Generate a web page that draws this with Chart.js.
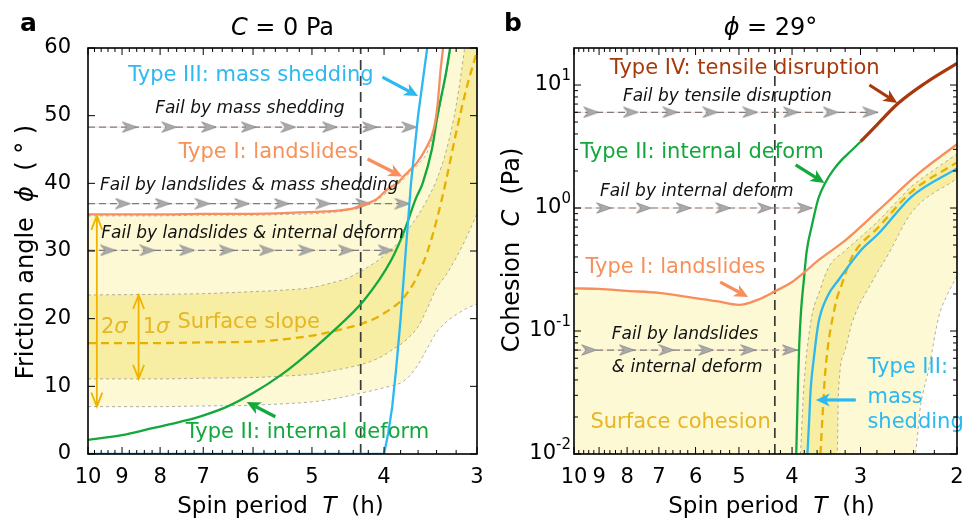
<!DOCTYPE html>
<html><head><meta charset="utf-8">
<script src="https://cdn.jsdelivr.net/npm/chart.js@4/dist/chart.umd.min.js"></script>
<style>
html,body{margin:0;padding:0;background:#fff;}
#wrap{position:relative;width:964px;height:520px;overflow:hidden;background:#fff;}
canvas{position:absolute;top:0;}
#ca{left:0;} #cb{left:484px;}
</style></head><body>
<div id="wrap"><canvas id="ca" width="484" height="520"></canvas><canvas id="cb" width="480" height="520"></canvas></div>
<script>
// ================= DATA: panel a (C = 0 Pa) =================
const spinTicksA = [10, 9, 8, 7, 6, 5, 4, 3];
const phiTicks   = [0, 10, 20, 30, 40, 50, 60];

// Type III: mass shedding
const shedT_A   = [10, 4.0, 3.95, 3.90, 3.85, 3.80, 3.74, 3.68, 3.60, 3.50];
const shedPhi_A = [0, 0, 3, 7, 13, 20, 30, 40, 50, 60];
// Type II: internal deform
const deformT_A   = [10, 9, 8.35, 7.5, 7.09, 6.5, 6.0, 5.5, 5.21, 4.71, 4.25, 3.91, 3.75, 3.63, 3.55, 3.45, 3.39, 3.30, 3.26];
const deformPhi_A = [2.1, 2.8, 3.6, 4.8, 5.5, 7.0, 9.0, 11.7, 13.7, 17.9, 22.8, 28.7, 33.2, 37.6, 40, 45, 50, 56.5, 60];
// Type I: landslides
const slideT_A   = [10, 8, 7, 6, 5.2, 4.7, 4.4, 4.25, 4.1, 3.95, 3.83, 3.76, 3.68, 3.61, 3.52, 3.43, 3.39, 3.36, 3.33];
const slidePhi_A = [35.4, 35.4, 35.5, 35.5, 35.7, 35.9, 36.3, 36.9, 37.6, 39.2, 40.1, 41.1, 42.1, 43.1, 45, 48, 51.5, 56.4, 60.3];
// Surface slope distribution (median, 1 sigma, 2 sigma)
const bandT_A    = [10, 8, 7, 6, 5.5, 5, 4.7, 4.5, 4.3, 4.1, 4.0, 3.9, 3.8, 3.7, 3.6, 3.5, 3.4, 3.3, 3.2, 3.1, 3.0];
const slopeMed_A = [16.4, 16.4, 16.5, 16.6, 16.9, 17.5, 18.1, 18.6, 19.2, 20.1, 20.8, 21.6, 22.6, 24.2, 26.5, 29.8, 34.5, 40.5, 47.5, 54, 59.5];
const slope1Up_A = [23.5, 23.6, 23.7, 24.0, 24.2, 24.6, 25.3, 25.9, 27.0, 28.4, 29.3, 30.4, 31.5, 33.4, 35.3, 37.6, 40.5, 44.8, 51.5, 62, 75];
const slope1Lo_A = [11.1, 11.1, 11.2, 11.3, 11.5, 11.8, 12.3, 12.7, 13.2, 14.0, 14.6, 15.4, 16.2, 17.3, 18.8, 21.5, 24.5, 26.5, 29, 32, 35.5];
const slope2Up_A = [35.2, 35.2, 35.3, 35.3, 35.4, 35.5, 35.7, 36.0, 36.6, 37.4, 38.3, 39.3, 40.2, 41.5, 42.8, 44.6, 49, 56, 65, 75, 85];
const slope2Lo_A = [7.0, 7.0, 7.1, 7.2, 7.4, 7.7, 8.1, 8.5, 9.0, 9.5, 9.8, 10.1, 10.5, 11.5, 13.2, 15.6, 18.0, 19.5, 20.6, 21.5, 22.2];
// "Fail by ..." paths
const failPhi_A = [48.3, 37.0, 30.1];
const failEnd_A = [3.63, 3.70, 3.89];
const failMarks_A = [
  [8.79, 7.78, 6.88, 6.08, 5.38, 4.73, 4.18, 3.70],
  [8.98, 7.94, 7.02, 6.21, 5.49, 4.83, 4.27, 3.78],
  [9.40, 8.32, 7.36, 6.51, 5.75, 5.09, 4.50, 3.98]
];
const currentPeriod = [4.3];

// ================= DATA: panel b (phi = 29 deg) =================
const spinTicksB = [10, 9, 8, 7, 6, 5, 4, 3, 2];
const cohTicks   = [0.01, 0.1, 1, 10];

const slideT_B = [10, 9, 8, 7, 6, 5.5, 5.0, 4.6, 4.3, 4.0, 3.8, 3.57, 3.19, 2.78, 2.35, 2.0];
const slideC_B = [0.222, 0.22, 0.212, 0.204, 0.185, 0.175, 0.163, 0.181, 0.21, 0.25, 0.30, 0.38, 0.55, 0.96, 1.91, 3.3];
const deformT_B = [3.93, 3.915, 3.90, 3.88, 3.85, 3.81, 3.76, 3.68, 3.58, 3.48, 3.36, 3.25, 3.12, 3.0];
const deformC_B = [0.01, 0.02, 0.04, 0.08, 0.15, 0.25, 0.45, 0.72, 1.2, 1.6, 2.05, 2.45, 2.92, 3.46];
const tensileT_B = [3.0, 2.8, 2.56, 2.29, 2.0];
const tensileC_B = [3.46, 4.75, 7.1, 10.3, 15];
const shedT_B = [3.75, 3.72, 3.70, 3.65, 3.58, 3.45, 3.29, 3.0, 2.78, 2.42, 2.0];
const shedC_B = [0.01, 0.02, 0.033, 0.06, 0.116, 0.19, 0.26, 0.45, 0.62, 1.24, 2.1];
const cohMedT_B = [3.55, 3.52, 3.48, 3.34, 3.24, 3.11, 2.78, 2.42, 2.0];
const cohMedC_B = [0.01, 0.02, 0.046, 0.158, 0.245, 0.40, 0.70, 1.36, 2.35];
const coh1UpT_B = [3.86, 3.81, 3.70, 3.55, 3.43, 3.2, 3.0, 2.78, 2.58, 2.42, 2.2, 2.0];
const coh1UpC_B = [0.01, 0.033, 0.116, 0.22, 0.33, 0.45, 0.58, 0.79, 1.12, 1.5, 2.05, 2.75];
const coh1LoT_B = [3.86, 3.31, 3.29, 3.2, 3.11, 2.86, 2.67, 2.42, 2.0];
const coh1LoC_B = [0.005, 0.01, 0.033, 0.07, 0.116, 0.25, 0.42, 0.92, 1.74];
const coh2LoT_B = [10, 2.39, 2.33, 2.25, 2.16, 2.08, 2.0];
const coh2LoC_B = [0.01, 0.01, 0.025, 0.05, 0.13, 0.2, 0.28];
const failC_B = [6.0, 1.0, 0.07];
const failEnd_B = [2.78, 3.62, 3.88];
const failMarks_B = [
  [9.31, 7.88, 6.67, 5.64, 4.77, 4.02, 3.40, 2.88],
  [8.82, 7.46, 6.31, 5.34, 4.48, 3.79],
  [9.39, 8.01, 6.78, 5.74, 4.81, 4.04]
];

// ================= STYLE =================
const FONT = '"DejaVu Sans", "Liberation Sans", sans-serif';
const BLUE = '#2cb8f0', GREEN = '#12a83c', ORANGE = '#f88e5c', ORANGE_T = '#f7915a',
      BROWN = '#a8390b', GOLD = '#e8b523', MED = '#e7b000',
      LIGHT = '#fdf9d5', DARK = '#f7eea3', EDGE = '#9a9a9a';
Chart.defaults.font.family = FONT;
Chart.defaults.color = '#000';

const pts = (xs, ys) => xs.map((x, i) => ({x: x, y: ys[i]}));
const hline = (y, x0, x1) => [{x: x0, y: y}, {x: x1, y: y}];

function chevron() {
  const c = document.createElement('canvas'); c.width = 16; c.height = 12;
  const g = c.getContext('2d');
  g.beginPath(); g.moveTo(15.3, 6); g.lineTo(0.7, 0.8); g.lineTo(5, 6); g.lineTo(0.7, 11.2); g.closePath();
  g.fillStyle = '#aaaaaa'; g.fill(); g.strokeStyle = '#888'; g.lineWidth = 0.8; g.stroke();
  return c;
}
const CHEV = chevron();

function lineDs(data, color, width, order, extra) {
  return Object.assign({data: data, showLine: true, borderColor: color, borderWidth: width,
    pointRadius: 0, fill: false, cubicInterpolationMode: 'monotone', tension: 0.4, order: order}, extra || {});
}
function straight(data, color, width, order, extra) {
  return Object.assign(lineDs(data, color, width, order, extra), {cubicInterpolationMode: 'default', tension: 0});
}
function failSets(yVals, ends, marks, startT) {
  const pink = [], dash = [], mk = [];
  yVals.forEach((y, i) => {
    pink.push(straight(hline(y, startT, ends[i]), 'rgba(248,190,170,0.55)', 1, 14));
    dash.push(straight(hline(y, startT, ends[i]), '#7c7c7c', 1.2, 13, {borderDash: [7, 4]}));
    mk.push({data: marks[i].map(t => ({x: t, y: y})), showLine: false, pointStyle: CHEV,
      pointRadius: 6, order: 12});
  });
  return pink.concat(dash, mk);
}

// ================= DATASETS =================
const dsA = [
  lineDs(pts(bandT_A, slope2Up_A), EDGE, 0.8, 20, {fill: 1, backgroundColor: LIGHT, borderDash: [3, 3]}),
  lineDs(pts(bandT_A, slope2Lo_A), EDGE, 0.8, 19, {borderDash: [3, 3]}),
  lineDs(pts(bandT_A, slope1Up_A), EDGE, 0.8, 18, {fill: 3, backgroundColor: DARK, borderDash: [3, 3]}),
  lineDs(pts(bandT_A, slope1Lo_A), EDGE, 0.8, 17, {borderDash: [3, 3]}),
  lineDs(pts(bandT_A, slopeMed_A), MED, 2.3, 16, {borderDash: [8, 5]}),
  straight([{x: currentPeriod[0], y: 0}, {x: currentPeriod[0], y: 60}], '#3a3a3a', 1.7, 15, {borderDash: [10, 6]})
].concat(failSets(failPhi_A, failEnd_A, failMarks_A, 10), [
  lineDs(pts(deformT_A, deformPhi_A), GREEN, 2.3, 3),
  lineDs(pts(slideT_A, slidePhi_A), ORANGE, 2.3, 2),
  straight(pts(shedT_A, shedPhi_A), BLUE, 2.3, 1)
]);

const dsB = [
  lineDs(pts(slideT_B, slideC_B), 'rgba(0,0,0,0)', 0, 20, {fill: 1, backgroundColor: LIGHT}),
  lineDs(pts(coh2LoT_B, coh2LoC_B), EDGE, 0.8, 19, {borderDash: [3, 3]}),
  lineDs(pts(coh1UpT_B, coh1UpC_B), EDGE, 0.8, 18, {fill: 3, backgroundColor: DARK, borderDash: [3, 3]}),
  lineDs(pts(coh1LoT_B, coh1LoC_B), EDGE, 0.8, 17, {borderDash: [3, 3]}),
  lineDs(pts(cohMedT_B, cohMedC_B), MED, 2.3, 16, {borderDash: [8, 5]}),
  straight([{x: currentPeriod[0], y: 0.01}, {x: currentPeriod[0], y: 20}], '#3a3a3a', 1.7, 15, {borderDash: [10, 6]})
].concat(failSets(failC_B, failEnd_B, failMarks_B, 10), [
  lineDs(pts(deformT_B, deformC_B), GREEN, 2.3, 3),
  lineDs(pts(tensileT_B, tensileC_B), BROWN, 3.2, 4),
  lineDs(pts(slideT_B, slideC_B), ORANGE, 2.3, 2),
  lineDs(pts(shedT_B, shedC_B), BLUE, 2.3, 1)
]);

// ================= DECORATION CONFIG =================
function minorsBetween(lo, hi) { const r = []; for (let k = Math.round(lo * 5) + 1; k < Math.round(hi * 5); k++) if (k % 5) r.push(k / 5); return r; }
const logMinors = []; [0.01, 0.1, 1].forEach(d => { for (let m = 2; m <= 9; m++) logMinors.push(m * d); });

const decoCfg = {
  ca: {
    xMajor: spinTicksA, xMinor: minorsBetween(3, 10), yMajor: phiTicks, yMinor: [],
    letter: 'a', title: [['C', 1], [' = 0 Pa']], titleDx: 0,
    xTitle: [['Spin period  '], ['T', 1], ['  (h)']], xTitleDx: -2,
    yTitle: [['Friction angle  '], ['\u03D5', 1], ['  ( \u00B0 )']], yTitleX: 27, yTitleY: 252,
    sigma: [{T: 9.73, top: slope2Up_A[0], bot: slope2Lo_A[0]}, {T: 8.55, top: slope1Up_A[0], bot: slope1Lo_A[0]}],
    arrows: [
      {t0: 4.02, v0: 55.7, t1: 3.60, v1: 52.9, color: BLUE},
      {t0: 4.21, v0: 43.6, t1: 3.78, v1: 41.0, color: ORANGE},
      {t0: 5.60, v0: 5.5, t1: 6.12, v1: 7.7, color: GREEN}
    ],
    texts: [
      {parts: [['Type III: mass shedding']], T: 6.04, v: 56.0, color: BLUE, size: 21},
      {parts: [['Fail by mass shedding', 1]], T: 6.06, v: 51.1, color: '#111', size: 17},
      {parts: [['Type I: landslides']], T: 5.72, v: 44.6, color: ORANGE_T, size: 21},
      {parts: [['Fail by landslides & mass shedding', 1]], T: 6.07, v: 39.6, color: '#111', size: 17},
      {parts: [['Fail by landslides & internal deform', 1]], T: 6.01, v: 32.6, color: '#111', size: 17},
      {parts: [['2'], ['\u03C3', 1]], T: 9.22, v: 18.7, color: GOLD, size: 21},
      {parts: [['1'], ['\u03C3', 1]], T: 8.10, v: 18.7, color: GOLD, size: 21},
      {parts: [['Surface slope']], T: 6.08, v: 19.4, color: GOLD, size: 21},
      {parts: [['Type II: internal deform']], T: 5.07, v: 3.1, color: GREEN, size: 21}
    ]
  },
  cb: {
    xMajor: spinTicksB, xMinor: minorsBetween(2, 10), yMajor: cohTicks, yMinor: logMinors, logLabels: true,
    letter: 'b', title: [['\u03D5', 1], [' = 29\u00B0']], titleDx: 5,
    xTitle: [['Spin period  '], ['T', 1], ['  (h)']], xTitleDx: 6,
    yTitle: [['Cohesion  '], ['C', 1], ['  (Pa)']], yTitleX: 29, yTitleY: 250,
    sigma: [],
    arrows: [
      {t0: 2.89, v0: 10.0, t1: 2.57, v1: 7.15, color: BROWN},
      {t0: 3.94, v0: 2.24, t1: 3.49, v1: 1.60, color: GREEN},
      {t0: 5.41, v0: 0.25, t1: 4.81, v1: 0.189, color: ORANGE},
      {t0: 3.06, v0: 0.0275, t1: 3.62, v1: 0.0275, color: BLUE}
    ],
    texts: [
      {parts: [['Type IV: tensile disruption']], T: 4.88, v: 13.5, color: BROWN, size: 21},
      {parts: [['Fail by tensile disruption', 1]], T: 5.25, v: 7.98, color: '#111', size: 17},
      {parts: [['Type II: internal deform']], T: 5.84, v: 2.85, color: GREEN, size: 21},
      {parts: [['Fail by internal deform', 1]], T: 5.97, v: 1.35, color: '#111', size: 17},
      {parts: [['Type I: landslides']], T: 6.53, v: 0.331, color: ORANGE_T, size: 21},
      {parts: [['Fail by landslides', 1]], T: 8.53, v: 0.0927, color: '#111', size: 17, align: 'left'},
      {parts: [['& internal deform', 1]], T: 8.53, v: 0.0509, color: '#111', size: 17, align: 'left'},
      {parts: [['Surface cohesion']], T: 6.39, v: 0.0179, color: GOLD, size: 21},
      {parts: [['Type III:']], T: 2.914, v: 0.05, color: BLUE, size: 21, align: 'left'},
      {parts: [['mass']], T: 2.914, v: 0.029, color: BLUE, size: 21, align: 'left'},
      {parts: [['shedding']], T: 2.914, v: 0.0179, color: BLUE, size: 21, align: 'left'}
    ]
  }
};

// ================= DRAW HELPERS =================
function rich(ctx, parts, x, y, align, size, weight) {
  const fnt = p => (p[1] ? 'italic ' : '') + (weight ? weight + ' ' : '') + size + 'px ' + FONT;
  let total = 0; const ws = [];
  parts.forEach(p => { ctx.font = fnt(p); const w = ctx.measureText(p[0]).width; ws.push(w); total += w; });
  let cx = align === 'center' ? x - total / 2 : (align === 'right' ? x - total : x);
  ctx.textAlign = 'left';
  parts.forEach((p, i) => { ctx.font = fnt(p); ctx.fillText(p[0], cx, y); cx += ws[i]; });
}
function fatArrow(ctx, x1, y1, x2, y2, color) {
  const ang = Math.atan2(y2 - y1, x2 - x1), c = Math.cos(ang), s = Math.sin(ang);
  const hl = 14, hw = 6.5, nx = x2 - hl * 0.72 * c, ny = y2 - hl * 0.72 * s;
  const bx = x2 - hl * c, by = y2 - hl * s;
  ctx.strokeStyle = color; ctx.fillStyle = color; ctx.lineWidth = 3.2; ctx.setLineDash([]);
  ctx.beginPath(); ctx.moveTo(x1, y1); ctx.lineTo(nx, ny); ctx.stroke();
  ctx.beginPath(); ctx.moveTo(x2, y2); ctx.lineTo(bx - hw * s, by + hw * c); ctx.lineTo(nx, ny);
  ctx.lineTo(bx + hw * s, by - hw * c); ctx.closePath(); ctx.fill();
}
function dblArrow(ctx, x, y1, y2, color) {
  const hl = 14, hw = 5.5;
  ctx.strokeStyle = color; ctx.lineWidth = 1.8; ctx.setLineDash([]);
  ctx.beginPath(); ctx.moveTo(x, y1); ctx.lineTo(x, y2);
  ctx.moveTo(x - hw, y1 + hl); ctx.lineTo(x, y1); ctx.lineTo(x + hw, y1 + hl);
  ctx.moveTo(x - hw, y2 - hl); ctx.lineTo(x, y2); ctx.lineTo(x + hw, y2 - hl);
  ctx.stroke();
}

const DECO = {
  id: 'deco',
  afterDatasetsDraw(chart) {
    const cfg = decoCfg[chart.canvas.id]; const ctx = chart.ctx;
    const X = v => chart.scales.x.getPixelForValue(v), Y = v => chart.scales.y.getPixelForValue(v);
    ctx.save();
    cfg.sigma.forEach(s => dblArrow(ctx, X(s.T), Y(s.top), Y(s.bot), '#f0b400'));
    cfg.arrows.forEach(r => fatArrow(ctx, X(r.t0), Y(r.v0), X(r.t1), Y(r.v1), r.color));
    ctx.textBaseline = 'middle';
    cfg.texts.forEach(t => { ctx.fillStyle = t.color; rich(ctx, t.parts, X(t.T), Y(t.v), t.align || 'center', t.size); });
    ctx.restore();
  },
  afterDraw(chart) {
    const cfg = decoCfg[chart.canvas.id]; const ctx = chart.ctx; const a = chart.chartArea;
    const X = v => chart.scales.x.getPixelForValue(v), Y = v => chart.scales.y.getPixelForValue(v);
    ctx.save();
    ctx.strokeStyle = '#000'; ctx.lineWidth = 1; ctx.setLineDash([]);
    ctx.beginPath();
    const xt = (v, len) => { const p = X(v); ctx.moveTo(p, a.bottom); ctx.lineTo(p, a.bottom - len); ctx.moveTo(p, a.top); ctx.lineTo(p, a.top + len); };
    const yt = (v, len) => { const p = Y(v); ctx.moveTo(a.left, p); ctx.lineTo(a.left + len, p); ctx.moveTo(a.right, p); ctx.lineTo(a.right - len, p); };
    cfg.xMajor.forEach(v => xt(v, 7)); cfg.xMinor.forEach(v => xt(v, 4));
    cfg.yMajor.forEach(v => yt(v, 7)); cfg.yMinor.forEach(v => yt(v, 4));
    ctx.stroke();
    ctx.lineWidth = 1.6;
    ctx.strokeRect(a.left, a.top, a.right - a.left, a.bottom - a.top);
    ctx.fillStyle = '#000';
    if (cfg.logLabels) {
      ctx.textBaseline = 'middle'; ctx.textAlign = 'left';
      cfg.yMajor.forEach(v => {
        const e = Math.round(Math.log10(v)); const es = String(e);
        ctx.font = '21px ' + FONT; const w10 = ctx.measureText('10').width;
        ctx.font = '15px ' + FONT; const we = ctx.measureText(es).width;
        const right = a.left - 3, py = Y(v);
        ctx.font = '21px ' + FONT; ctx.fillText('10', right - we - w10, py);
        ctx.font = '15px ' + FONT; ctx.fillText(es, right - we, py - 9);
      });
    }
    ctx.textBaseline = 'alphabetic';
    rich(ctx, [[cfg.letter]], 20, 31, 'left', 25, 'bold');
    const cx = (a.left + a.right) / 2;
    rich(ctx, cfg.title, cx + cfg.titleDx, 35, 'center', 24);
    rich(ctx, cfg.xTitle, cx + cfg.xTitleDx, 513, 'center', 23);
    ctx.save();
    ctx.translate(cfg.yTitleX, cfg.yTitleY); ctx.rotate(-Math.PI / 2);
    ctx.textBaseline = 'middle';
    rich(ctx, cfg.yTitle, 0, 0, 'center', 24);
    ctx.restore();
    ctx.restore();
  }
};

function makeChart(id, datasets, xMin, xTicks, yScale, padRight, yWidth) {
  return new Chart(document.getElementById(id), {
    type: 'scatter',
    data: {datasets: datasets},
    options: {
      responsive: false, animation: false, devicePixelRatio: 1,
      layout: {padding: {top: 48, right: padRight, left: 0, bottom: 0}},
      plugins: {legend: {display: false}, tooltip: {enabled: false}, colors: {enabled: false},
        filler: {drawTime: 'beforeDatasetsDraw'}},
      scales: {
        x: {type: 'logarithmic', reverse: true, min: xMin, max: 10,
          afterBuildTicks: s => { s.ticks = xTicks.map(v => ({value: v})); },
          afterFit: s => { s.height = 66; s.paddingLeft = 0; s.paddingRight = 0; },
          grid: {display: false}, border: {display: false},
          ticks: {autoSkip: false, maxRotation: 0, padding: 3, color: '#000', font: {size: 21},
            callback: v => String(v)}},
        y: Object.assign({afterFit: s => { s.width = yWidth; s.paddingTop = 0; s.paddingBottom = 0; },
          grid: {display: false}, border: {display: false}}, yScale)
      }
    },
    plugins: [DECO]
  });
}

makeChart('ca', dsA, 3, spinTicksA, {
  type: 'linear', min: 0, max: 60,
  afterBuildTicks: s => { s.ticks = phiTicks.map(v => ({value: v})); },
  ticks: {padding: 9, color: '#000', font: {size: 21}}
}, 2, 88);

makeChart('cb', dsB, 2, spinTicksB, {
  type: 'logarithmic', min: 0.01, max: 20,
  afterBuildTicks: s => { s.ticks = cohTicks.map(v => ({value: v})); },
  ticks: {display: false}
}, 4, 90);
</script>
</body></html>
